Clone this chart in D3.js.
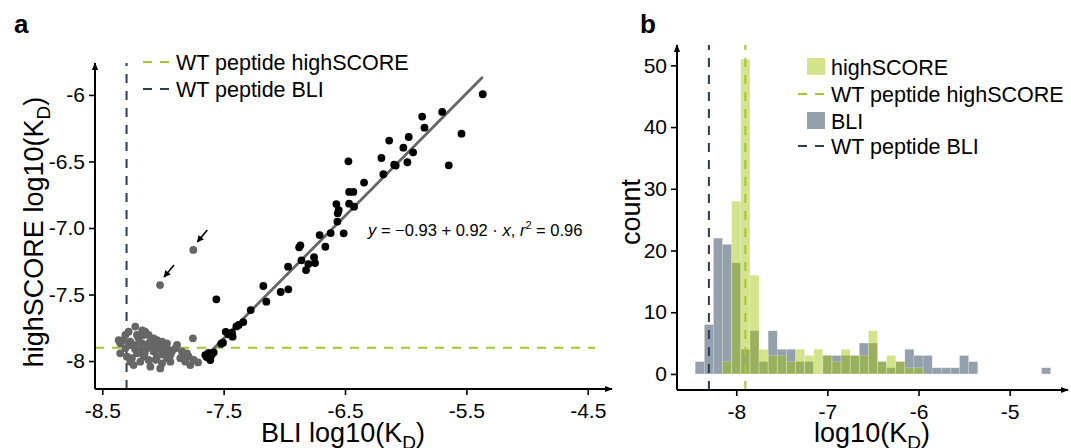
<!DOCTYPE html>
<html>
<head>
<meta charset="utf-8">
<script src="https://cdn.jsdelivr.net/npm/d3@7"></script>
<style>
  body { margin: 0; background: #fff; }
  text { font-family: "Liberation Sans", Arial, Helvetica, sans-serif; fill: #000; }
</style>
</head>
<body>
<div id="chart"></div>
<script>
// ---- panel a: BLI vs highSCORE log10(KD) ----
// points used for the fit (black)
var fitPoints = [
  [-5.365, -5.995], [-5.864, -6.163], [-5.699, -6.128], [-5.845, -6.246], [-5.540, -6.291],
  [-6.136, -6.343], [-5.975, -6.316], [-6.019, -6.396], [-5.939, -6.431], [-6.200, -6.474],
  [-6.472, -6.499], [-5.986, -6.506], [-6.095, -6.524], [-6.082, -6.531], [-5.645, -6.529],
  [-6.184, -6.596], [-6.343, -6.659], [-6.466, -6.729], [-6.431, -6.729], [-6.571, -6.820],
  [-6.466, -6.817], [-6.425, -6.840], [-6.552, -6.865], [-6.560, -6.890], [-6.563, -6.952],
  [-6.511, -7.040], [-6.618, -7.038], [-6.709, -7.053], [-6.662, -7.141], [-6.868, -7.130],
  [-6.878, -7.145], [-6.859, -7.243], [-6.755, -7.220], [-6.802, -7.271], [-6.747, -7.263],
  [-6.821, -7.316], [-6.969, -7.291], [-7.173, -7.436], [-7.148, -7.554], [-7.030, -7.481],
  [-6.967, -7.461], [-7.277, -7.617], [-7.338, -7.707], [-7.376, -7.729], [-7.395, -7.740],
  [-7.483, -7.780], [-7.431, -7.787], [-7.426, -7.817], [-7.460, -7.800], [-7.505, -7.862],
  [-7.520, -7.870], [-7.560, -7.536], [-7.651, -7.955], [-7.610, -7.992], [-7.624, -7.938],
  [-7.582, -7.935], [-7.640, -7.970], [-7.600, -7.955]
];
// points at the detection floor (grey)
var floorPoints = [
  [-8.228, -7.741], [-8.283, -7.779], [-8.310, -7.804], [-8.146, -7.779], [-8.118, -7.804],
  [-8.201, -7.829], [-8.352, -7.867], [-8.269, -7.854], [-8.242, -7.879], [-8.173, -7.867],
  [-8.104, -7.854], [-8.049, -7.842], [-8.008, -7.854], [-7.967, -7.867], [-8.063, -7.892],
  [-8.132, -7.904], [-8.187, -7.917], [-8.214, -7.942], [-8.256, -7.979], [-8.269, -8.005],
  [-8.104, -8.042], [-8.022, -8.055], [-8.008, -8.017], [-7.967, -7.979], [-7.939, -7.954],
  [-8.049, -7.967], [-8.077, -7.929], [-8.159, -7.967], [-8.352, -7.942], [-8.310, -7.904],
  [-7.884, -7.879], [-7.843, -7.929], [-7.857, -7.979], [-7.816, -8.005], [-7.788, -7.967],
  [-7.747, -7.992], [-7.775, -8.030], [-7.711, -8.010], [-7.753, -7.829], [-7.953, -7.917],
  [-7.926, -7.929], [-7.898, -7.904], [-7.994, -7.929], [-8.118, -7.992], [-8.187, -8.005],
  [-8.242, -8.030], [-8.365, -7.842], [-8.324, -7.842], [-8.159, -7.804], [-8.077, -7.829],
  [-8.036, -7.879], [-7.981, -7.892], [-8.214, -7.804], [-8.297, -7.967], [-7.939, -8.005],
  [-7.829, -7.967], [-7.802, -7.942], [-8.190, -7.860], [-8.090, -7.880], [-8.150, -7.940],
  [-8.030, -7.910], [-8.120, -7.870], [-8.230, -7.910], [-8.000, -7.950], [-8.060, -7.990],
  [-8.170, -7.770], [-8.280, -7.880]
];
// the two flagged outliers (grey, with arrows)
var flaggedPoints = [[-7.750, -7.165], [-8.024, -7.429]];

var wtBLI = -8.3;
var wtHighSCORE = -7.9;
var fitIntercept = -0.93, fitSlope = 0.92;

var xTicksA = [-8.5, -7.5, -6.5, -5.5, -4.5];
var xTickLabelsA = ["-8.5", "-7.5", "-6.5", "-5.5", "-4.5"];
var yTicksA = [-8, -7.5, -7, -6.5, -6];
var yTickLabelsA = ["-8", "-7.5", "-7.0", "-6.5", "-6"];

// ---- panel b: histograms, bins of 0.1 starting at -8.45 ----
var binStart = -8.45, binWidth = 0.1;
var bliCounts = [2, 8, 22, 21, 18, 4, 7, 2, 7, 4, 4, 2, 2, 0, 3, 3, 3, 3, 5, 5,
                 2, 1, 2, 4, 3, 3, 1, 1, 1, 3, 2, 0, 0, 0, 0, 0, 0, 0, 1];
var highScoreCounts = [0, 0, 0, 2, 28, 51, 16, 4, 3, 3, 2, 4, 3, 4, 3, 2, 4, 3, 3, 7,
                       2, 3, 2, 1, 1];
var xTicksB = [-8, -7, -6, -5];
var yTicksB = [0, 10, 20, 30, 40, 50];

var greenLine = "#a3c72e", navyLine = "#2c3e50";
var greenFill = "#a0c300", greyFill = "#4d6175";

var W = 1071, H = 448;
var svg = d3.select("#chart").append("svg")
    .attr("width", W).attr("height", H);

var defs = svg.append("defs");
defs.append("marker")
    .attr("id", "axhead")
    .attr("viewBox", "0 0 10 10")
    .attr("refX", 9).attr("refY", 5)
    .attr("markerUnits", "userSpaceOnUse")
    .attr("markerWidth", 8).attr("markerHeight", 8)
    .attr("orient", "auto")
    .append("path").attr("d", "M0,1 L10,5 L0,9 Z").attr("fill", "#000");
defs.append("marker")
    .attr("id", "pointer")
    .attr("viewBox", "0 0 10 10")
    .attr("refX", 9).attr("refY", 5)
    .attr("markerUnits", "userSpaceOnUse")
    .attr("markerWidth", 7).attr("markerHeight", 7)
    .attr("orient", "auto")
    .append("path").attr("d", "M0,0 L10,5 L0,10 Z").attr("fill", "#000");

function styleAxis(g) {
  g.select(".domain").remove();
  g.selectAll(".tick line").attr("stroke", "#000").attr("stroke-width", 1.6);
  g.selectAll(".tick text").style("font-size", "21px")
    .style("font-family", "'Liberation Sans', Arial, sans-serif").attr("fill", "#000");
}

function axisLines(g, x0, y0, x1, y1) {
  g.append("line").attr("x1", x0).attr("y1", y0).attr("x2", x1).attr("y2", y0)
    .attr("stroke", "#000").attr("stroke-width", 2).attr("marker-end", "url(#axhead)");
  g.append("line").attr("x1", x0).attr("y1", y0).attr("x2", x0).attr("y2", y1)
    .attr("stroke", "#000").attr("stroke-width", 2).attr("marker-end", "url(#axhead)");
}

// title with a subscript D, e.g. "log10(K_D)"
function kdTitle(sel, prefix) {
  sel.append("tspan").text(prefix + "log10(K");
  sel.append("tspan").attr("dy", 7).style("font-size", "19px").text("D");
  sel.append("tspan").attr("dy", -7).text(")");
}

// ================= panel a =================
var xA = d3.scaleLinear().domain([-8.56, -4.3]).range([95, 612]);
var yA = d3.scaleLinear().domain([-8.21, -5.76]).range([389, 63]);
var gA = svg.append("g");

gA.append("text").attr("x", 14).attr("y", 33)
  .style("font-size", "26px").style("font-weight", "bold").text("a");

// reference lines
gA.append("line")
  .attr("x1", xA(wtBLI)).attr("x2", xA(wtBLI))
  .attr("y1", yA.range()[0]).attr("y2", yA.range()[1])
  .attr("stroke", navyLine).attr("stroke-width", 2).attr("stroke-dasharray", "9,8");
gA.append("line")
  .attr("x1", xA.range()[0]).attr("x2", xA.range()[1] - 17)
  .attr("y1", yA(wtHighSCORE)).attr("y2", yA(wtHighSCORE))
  .attr("stroke", greenLine).attr("stroke-width", 2).attr("stroke-dasharray", "9,8");

// fit line over the range of the fitted points
var fitExt = d3.extent(fitPoints, function (d) { return d[0]; });
gA.append("line")
  .attr("x1", xA(fitExt[0])).attr("y1", yA(fitIntercept + fitSlope * fitExt[0]))
  .attr("x2", xA(fitExt[1])).attr("y2", yA(fitIntercept + fitSlope * fitExt[1]))
  .attr("stroke", "#666").attr("stroke-width", 2.8);

gA.selectAll("circle.floor").data(floorPoints.concat(flaggedPoints)).join("circle")
  .attr("class", "floor")
  .attr("cx", function (d) { return xA(d[0]); })
  .attr("cy", function (d) { return yA(d[1]); })
  .attr("r", 3.9).attr("fill", "#666");
gA.selectAll("circle.fit").data(fitPoints).join("circle")
  .attr("class", "fit")
  .attr("cx", function (d) { return xA(d[0]); })
  .attr("cy", function (d) { return yA(d[1]); })
  .attr("r", 3.9).attr("fill", "#000");

// arrows pointing at the flagged points
gA.selectAll("line.pointer").data(flaggedPoints).join("line")
  .attr("class", "pointer")
  .attr("x1", function (d) { return xA(d[0]) + 14; })
  .attr("y1", function (d) { return yA(d[1]) - 20; })
  .attr("x2", function (d) { return xA(d[0]) + 4; })
  .attr("y2", function (d) { return yA(d[1]) - 8; })
  .attr("stroke", "#000").attr("stroke-width", 1.6).attr("marker-end", "url(#pointer)");

// equation
var eq = gA.append("text").attr("x", xA(-6.31)).attr("y", yA(-6.96) + 13)
  .style("font-size", "16.5px");
eq.append("tspan").style("font-style", "italic").text("y");
eq.append("tspan").text(" = \u22120.93 + 0.92 \u00b7 ");
eq.append("tspan").style("font-style", "italic").text("x");
eq.append("tspan").text(",  ");
eq.append("tspan").style("font-style", "italic").text("r");
eq.append("tspan").attr("dy", -7).style("font-size", "11px").text("2");
eq.append("tspan").attr("dy", 7).text(" = 0.96");

var axA = gA.append("g").attr("transform", "translate(0," + yA.range()[0] + ")")
  .call(d3.axisBottom(xA).tickValues(xTicksA).tickSize(6).tickPadding(8)
    .tickFormat(function (d, i) { return xTickLabelsA[i]; }));
styleAxis(axA);
var ayA = gA.append("g").attr("transform", "translate(" + xA.range()[0] + ",0)")
  .call(d3.axisLeft(yA).tickValues(yTicksA).tickSize(6).tickPadding(4)
    .tickFormat(function (d, i) { return yTickLabelsA[i]; }));
styleAxis(ayA);
axisLines(gA, xA.range()[0], yA.range()[0], xA.range()[1], yA.range()[1]);

// titles
kdTitle(gA.append("text").attr("x", 343).attr("y", 442)
  .attr("text-anchor", "middle").style("font-size", "27px"), "BLI ");
kdTitle(gA.append("text").attr("transform", "translate(43,232) rotate(-90)")
  .attr("text-anchor", "middle").style("font-size", "27px"), "highSCORE ");

// legend a
var legA = [
  { label: "WT peptide highSCORE", color: greenLine, y: 62 },
  { label: "WT peptide BLI", color: navyLine, y: 89 }
];
legA.forEach(function (d) {
  gA.append("line").attr("x1", 143).attr("x2", 170).attr("y1", d.y).attr("y2", d.y)
    .attr("stroke", d.color).attr("stroke-width", 2).attr("stroke-dasharray", "9,8");
  gA.append("text").attr("x", 176).attr("y", d.y + 7.5)
    .style("font-size", "21.5px").text(d.label);
});

// ================= panel b =================
var xB = d3.scaleLinear().domain([-8.65, -4.36]).range([677, 1068]);
var yB = d3.scaleLinear().domain([-2.6, 53.3]).range([390, 45]);
var gB = svg.append("g");

gB.append("text").attr("x", 640).attr("y", 33)
  .style("font-size", "26px").style("font-weight", "bold").text("b");

function drawHist(counts, fill, opacity) {
  var bins = counts.map(function (c, i) {
    return { x0: binStart + i * binWidth, x1: binStart + (i + 1) * binWidth, n: c };
  }).filter(function (b) { return b.n > 0; });
  gB.append("g").selectAll("rect").data(bins).join("rect")
    .attr("x", function (b) { return xB(b.x0); })
    .attr("width", function (b) { return xB(b.x1) - xB(b.x0); })
    .attr("y", function (b) { return yB(b.n); })
    .attr("height", function (b) { return yB(0) - yB(b.n); })
    .attr("fill", fill).attr("fill-opacity", opacity)
    .attr("stroke", "#fff").attr("stroke-opacity", 0.35).attr("stroke-width", 0.6);
}
drawHist(bliCounts, greyFill, 0.6);
drawHist(highScoreCounts, greenFill, 0.45);

[[wtBLI, navyLine], [wtHighSCORE, greenLine]].forEach(function (d) {
  gB.append("line").attr("x1", xB(d[0])).attr("x2", xB(d[0]))
    .attr("y1", yB.range()[0]).attr("y2", yB.range()[1])
    .attr("stroke", d[1]).attr("stroke-width", 2).attr("stroke-dasharray", "9,8");
});

var axB = gB.append("g").attr("transform", "translate(0," + yB.range()[0] + ")")
  .call(d3.axisBottom(xB).tickValues(xTicksB).tickSize(6).tickPadding(8)
    .tickFormat(function (d) { return String(d); }));
styleAxis(axB);
var ayB = gB.append("g").attr("transform", "translate(" + xB.range()[0] + ",0)")
  .call(d3.axisLeft(yB).tickValues(yTicksB).tickSize(6).tickPadding(4)
    .tickFormat(function (d) { return String(d); }));
styleAxis(ayB);
axisLines(gB, xB.range()[0], yB.range()[0], xB.range()[1], yB.range()[1]);

kdTitle(gB.append("text").attr("x", 872).attr("y", 442)
  .attr("text-anchor", "middle").style("font-size", "27px"), "");
gB.append("text").attr("transform", "translate(640,212) rotate(-90)")
  .attr("text-anchor", "middle").style("font-size", "27px").text("count");

// legend b
var legB = [
  { label: "highSCORE", kind: "box", fill: greenFill, op: 0.45, y: 67 },
  { label: "WT peptide highSCORE", kind: "dash", color: greenLine, y: 94 },
  { label: "BLI", kind: "box", fill: greyFill, op: 0.6, y: 121 },
  { label: "WT peptide BLI", kind: "dash", color: navyLine, y: 146 }
];
legB.forEach(function (d) {
  if (d.kind === "box") {
    gB.append("rect").attr("x", 807).attr("y", d.y - 9).attr("width", 18).attr("height", 17)
      .attr("fill", d.fill).attr("fill-opacity", d.op);
  } else {
    gB.append("line").attr("x1", 798).attr("x2", 825).attr("y1", d.y).attr("y2", d.y)
      .attr("stroke", d.color).attr("stroke-width", 2).attr("stroke-dasharray", "9,8");
  }
  gB.append("text").attr("x", 831).attr("y", d.y + 7.5)
    .style("font-size", "21.5px").text(d.label);
});
</script>
</body>
</html>
